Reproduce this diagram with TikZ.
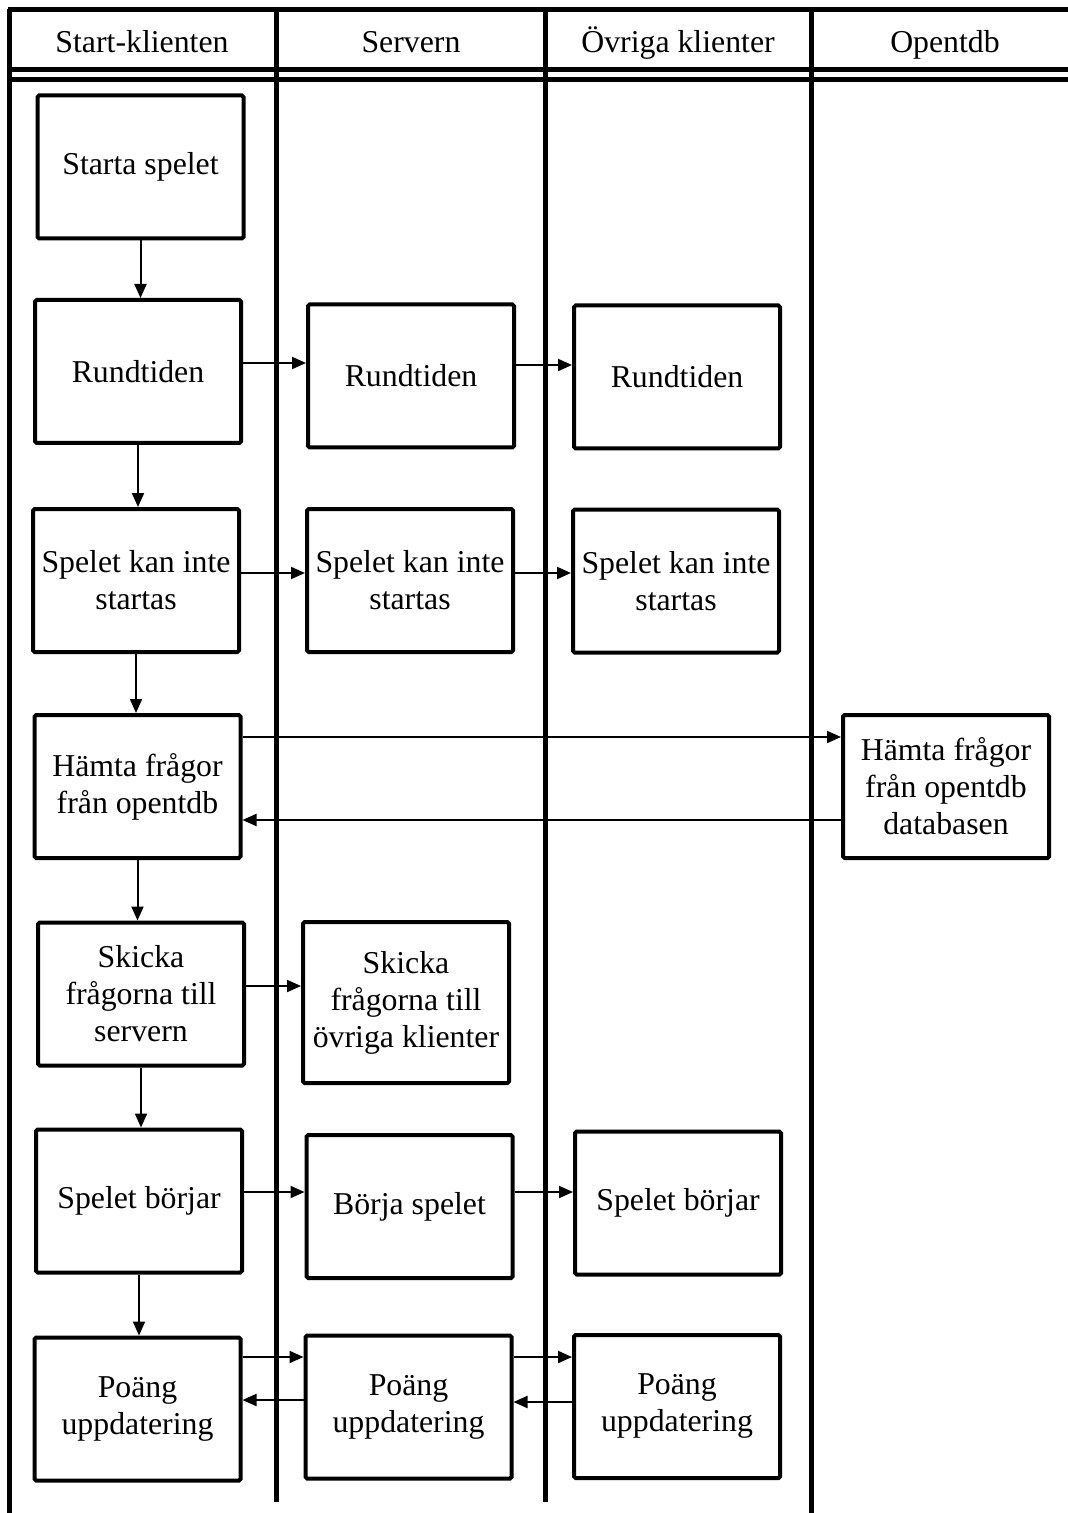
\documentclass[tikz,border=0pt]{standalone}
\usepackage{fontspec}
\setmainfont{Liberation Serif}
\usetikzlibrary{positioning, arrows.meta}

\tikzset{
  box/.style={draw, line width=2pt, rounded corners=0.8pt, minimum width=103pt,
    minimum height=71.5pt, align=center, inner sep=1pt},
  head/.style={anchor=base},
  lane/.style={line width=2.5pt},
  flow/.style={line width=1pt, -{Triangle[length=7pt,width=6pt]}},
}

\begin{document}
\begin{tikzpicture}[x=0.5pt, y=-0.5pt, font=\fontsize{15.9}{18.5}\selectfont]
  \useasboundingbox (0,0) rectangle (1068,1513);

  % swimlanes
  \draw[lane] (8,10) -- (1068,10);
  \draw[lane] (8,70) -- (1068,70);
  \draw[lane] (8,79.5) -- (1068,79.5);
  \draw[lane] (9.5,9) -- (9.5,1513);
  \draw[lane] (276,9) -- (276,1502);
  \draw[lane] (545,9) -- (545,1502);
  \draw[lane] (811,9) -- (811,1513);

  \node[head] (t1) at (142,53) {Start-klienten};
  \node[head] (t2) at (411,53) {Servern};
  \node[head] (t3) at (678,53) {Övriga klienter};
  \node[head] (t4) at (945,53) {Opentdb};

  % steps
  \node[box] (s1) at (140.5,167) {Starta spelet};
  \node[box] (r1) at (138,371.5) {Rundtiden};
  \node[box] (r2) at (411,376) {Rundtiden};
  \node[box] (r3) at (677,377) {Rundtiden};
  \node[box] (k1) at (136,580.5) {Spelet kan inte\\startas};
  \node[box] (k2) at (410,580.5) {Spelet kan inte\\startas};
  \node[box] (k3) at (676,581) {Spelet kan inte\\startas};
  \node[box] (h1) at (137.5,786.5) {Hämta frågor\\från opentdb};
  \node[box] (h2) at (946,786.5) {Hämta frågor\\från opentdb\\databasen};
  \node[box] (q1) at (141,994) {Skicka\\frågorna till\\servern};
  \node[box, minimum height=80.5pt] (q2) at (406,1002.5) {Skicka\\frågorna till\\övriga klienter};
  \node[box] (b1) at (139,1201) {Spelet börjar};
  \node[box] (b2) at (409.5,1206.5) {Börja spelet};
  \node[box] (b3) at (678,1203) {Spelet börjar};
  \node[box] (p1) at (137.5,1409) {Poäng\\uppdatering};
  \node[box] (p2) at (408.5,1407) {Poäng\\uppdatering};
  \node[box] (p3) at (677,1406.5) {Poäng\\uppdatering};

  % down the start client
  \draw[flow] (s1.south) -- (s1.south |- r1.north);
  \draw[flow] (r1.south) -- (r1.south |- k1.north);
  \draw[flow] (k1.south) -- (k1.south |- h1.north);
  \draw[flow] (h1.south) -- (h1.south |- q1.north);
  \draw[flow] (q1.south) -- (q1.south |- b1.north);
  \draw[flow] (b1.south) -- (b1.south |- p1.north);

  % across the lanes
  \draw[flow] ([yshift=4.25pt]r1.east) -- ([yshift=4.25pt]r1.east -| r2.west);
  \draw[flow] ([yshift=5.5pt]r2.east) -- ([yshift=5.5pt]r2.east -| r3.west);
  \draw[flow] ([yshift=3.75pt]k1.east) -- ([yshift=3.75pt]k1.east -| k2.west);
  \draw[flow] ([yshift=3.75pt]k2.east) -- ([yshift=3.75pt]k2.east -| k3.west);
  \draw[flow] ([yshift=24.75pt]h1.east) -- ([yshift=24.75pt]h1.east -| h2.west);
  \draw[flow] ([yshift=-16.75pt]h2.west) -- ([yshift=-16.75pt]h2.west -| h1.east);
  \draw[flow] ([yshift=4pt]q1.east) -- ([yshift=4pt]q1.east -| q2.west);
  \draw[flow] ([yshift=4.5pt]b1.east) -- ([yshift=4.5pt]b1.east -| b2.west);
  \draw[flow] ([yshift=7.25pt]b2.east) -- ([yshift=7.25pt]b2.east -| b3.west);
  \draw[flow] ([yshift=26pt]p1.east) -- ([yshift=26pt]p1.east -| p2.west);
  \draw[flow] ([yshift=3.5pt]p2.west) -- ([yshift=3.5pt]p2.west -| p1.east);
  \draw[flow] ([yshift=25pt]p2.east) -- ([yshift=25pt]p2.east -| p3.west);
  \draw[flow] ([yshift=2.25pt]p3.west) -- ([yshift=2.25pt]p3.west -| p2.east);
\end{tikzpicture}
\end{document}
